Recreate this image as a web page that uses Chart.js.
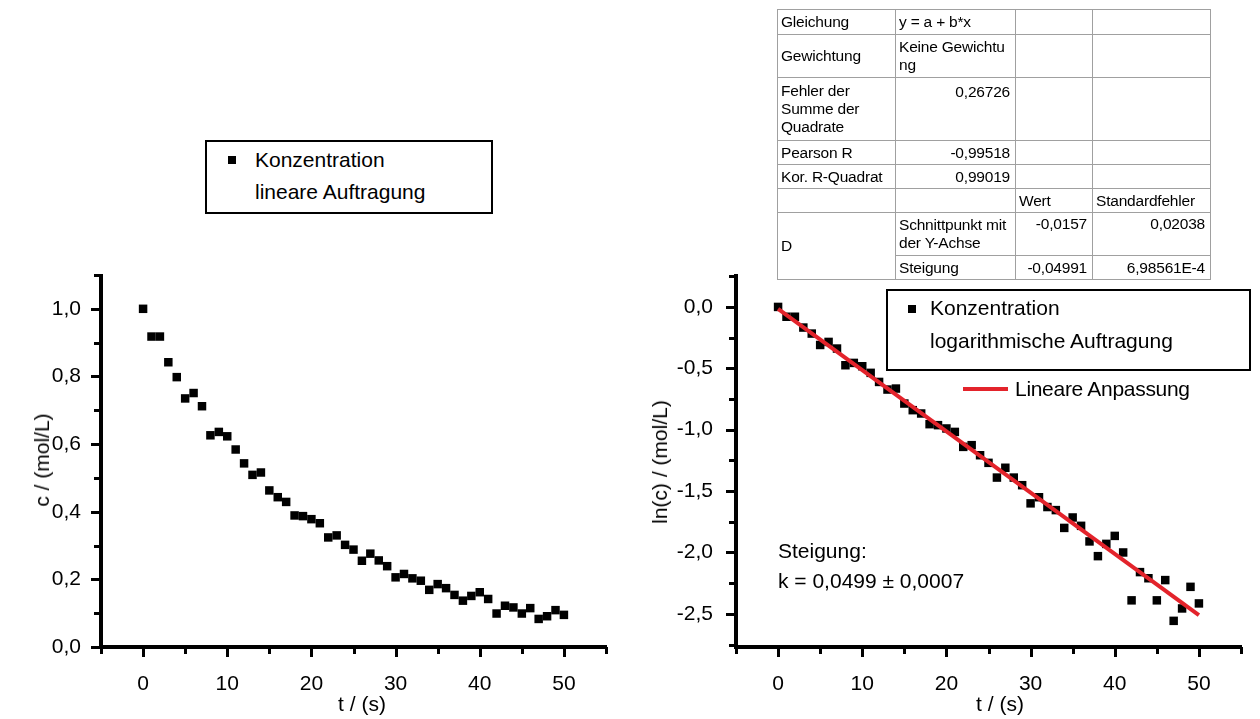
<!DOCTYPE html>
<html><head><meta charset="utf-8">
<script src="https://cdn.jsdelivr.net/npm/chart.js@4.4.1/dist/chart.umd.min.js"></script>
<style>
html,body{margin:0;padding:0;background:#fff;width:1260px;height:719px;overflow:hidden;font-family:"Liberation Sans",Arial,sans-serif;color:#000;}
.wrap{position:absolute;top:0;width:630px;height:719px;}
.t{position:absolute;font-size:21px;line-height:24px;white-space:nowrap;}
.ytitle{position:absolute;font-size:21px;line-height:24px;white-space:nowrap;transform:translate(-50%,-50%) rotate(-90deg);}
.xtitle{position:absolute;font-size:21px;line-height:24px;white-space:nowrap;transform:translate(-50%,-50%);}
.box{position:absolute;border:2px solid #000;box-sizing:border-box;background:#fff;}
.mk{position:absolute;width:8px;height:8px;background:#000;}
table.fit{position:absolute;left:777px;top:9px;border-collapse:collapse;table-layout:fixed;font-size:15.5px;line-height:18px;border:1px solid #6e6e6e;letter-spacing:-0.2px;}
table.fit td{border:1px solid #a0a0a0;padding:0 4px 0 3px;vertical-align:middle;overflow:hidden;white-space:nowrap;}
table.fit td.r{text-align:right;padding-right:5px;}
table.fit td.top{vertical-align:top;}
</style></head><body>
<div class="wrap" style="left:0"><canvas id="c1" width="630" height="719"></canvas></div>
<div class="wrap" style="left:630px"><canvas id="c2" width="630" height="719"></canvas></div>

<table class="fit">
<colgroup><col style="width:118px"><col style="width:120px"><col style="width:77px"><col style="width:118px"></colgroup>
<tr style="height:25px"><td>Gleichung</td><td>y = a + b*x</td><td></td><td></td></tr>
<tr style="height:43px"><td>Gewichtung</td><td>Keine Gewichtu<br>ng</td><td></td><td></td></tr>
<tr style="height:63px"><td>Fehler der<br>Summe der<br>Quadrate</td><td class="r top" style="padding-top:5px">0,26726</td><td></td><td></td></tr>
<tr style="height:24px"><td>Pearson R</td><td class="r">-0,99518</td><td></td><td></td></tr>
<tr style="height:24px"><td>Kor. R-Quadrat</td><td class="r">0,99019</td><td></td><td></td></tr>
<tr style="height:24px"><td></td><td></td><td>Wert</td><td>Standardfehler</td></tr>
<tr style="height:43px"><td rowspan="2">D</td><td>Schnittpunkt mit<br>der Y-Achse</td><td class="r top" style="padding-top:2px">-0,0157</td><td class="r top" style="padding-top:2px">0,02038</td></tr>
<tr style="height:24px"><td>Steigung</td><td class="r">-0,04991</td><td class="r">6,98561E-4</td></tr>
</table>

<div class="box" style="left:205px;top:140px;width:288px;height:74px"></div>
<div class="mk" style="left:228px;top:156px"></div>
<div class="t" style="left:255px;top:148px">Konzentration</div>
<div class="t" style="left:255px;top:180px">lineare Auftragung</div>

<div class="box" style="left:886px;top:289px;width:365px;height:82px"></div>
<div class="mk" style="left:908px;top:305px"></div>
<div class="t" style="left:930px;top:296px">Konzentration</div>
<div class="t" style="left:930px;top:329px">logarithmische Auftragung</div>
<div style="position:absolute;left:963px;top:387px;width:45px;height:4px;background:#e3232b"></div>
<div class="t" style="left:1015px;top:377px;letter-spacing:-0.3px">Lineare Anpassung</div>

<div class="t" style="left:778px;top:539px">Steigung:</div>
<div class="t" style="left:778px;top:569px">k = 0,0499 ± 0,0007</div>

<div class="ytitle" style="left:42px;top:460px">c / (mol/L)</div>
<div class="ytitle" style="left:660px;top:462px">ln(c) / (mol/L)</div>
<div class="xtitle" style="left:362px;top:704px">t / (s)</div>
<div class="xtitle" style="left:1000px;top:704px">t / (s)</div>

<script>
// ---- data ----
const time = [0,1,2,3,4,5,6,7,8,9,10,11,12,13,14,15,16,17,18,19,20,21,22,23,24,25,26,27,28,29,30,31,32,33,34,35,36,37,38,39,40,41,42,43,44,45,46,47,48,49,50];
const concLinear = [1.0,0.918,0.918,0.842,0.798,0.735,0.751,0.712,0.626,0.636,0.623,0.584,0.543,0.509,0.516,0.463,0.443,0.429,0.389,0.387,0.378,0.366,0.324,0.330,0.302,0.288,0.255,0.276,0.256,0.239,0.206,0.216,0.203,0.196,0.169,0.186,0.174,0.154,0.137,0.151,0.162,0.142,0.099,0.122,0.117,0.099,0.115,0.083,0.091,0.109,0.095];
const concLog = [0,-0.080,-0.080,-0.168,-0.217,-0.310,-0.285,-0.339,-0.475,-0.456,-0.483,-0.537,-0.611,-0.673,-0.665,-0.787,-0.841,-0.868,-0.955,-0.963,-0.990,-1.018,-1.140,-1.126,-1.208,-1.270,-1.390,-1.310,-1.390,-1.452,-1.600,-1.550,-1.630,-1.655,-1.800,-1.715,-1.783,-1.910,-2.030,-1.930,-1.865,-2.000,-2.390,-2.160,-2.210,-2.390,-2.225,-2.557,-2.456,-2.280,-2.415];
const fitT = [0, 50];
const fitLn = [-0.0157, -2.5112];
const xMajorTicks = [0,10,20,30,40,50];
const xMinorTicks = [-5,5,15,25,35,45,55];
const linMajorTicks = [0,0.2,0.4,0.6,0.8,1.0];
const linMinorTicks = [0.1,0.3,0.5,0.7,0.9,1.1];
const logMajorTicks = [0,-0.5,-1.0,-1.5,-2.0,-2.5];
const logMinorTicks = [0.25,-0.25,-0.75,-1.25,-1.75,-2.25,-2.75];

const FONT = {family:'"Liberation Sans", Arial, sans-serif', size:21};
const fmt = v => v.toFixed(1).replace('.', ',');

const axisMarks = {
  id:'axisMarks',
  afterDraw(chart, args, o){
    const ctx = chart.ctx, a = chart.chartArea, xs = chart.scales.x, ys = chart.scales.y;
    ctx.save();
    ctx.strokeStyle = '#000';
    ctx.lineCap = 'butt';
    ctx.lineWidth = 3;
    const tick = (list, len, isX) => {
      list.forEach(v => {
        ctx.beginPath();
        if (isX) { const p = Math.round(xs.getPixelForValue(v)) + 0.5; ctx.moveTo(p, a.bottom); ctx.lineTo(p, a.bottom + len); }
        else { const p = Math.round(ys.getPixelForValue(v)) + 0.5; ctx.moveTo(a.left, p); ctx.lineTo(a.left - len, p); }
        ctx.stroke();
      });
    };
    tick(o.xMajor, 10, true); tick(o.xMinor, 7, true);
    tick(o.yMajor, 10, false); tick(o.yMinor, 7, false);
    ctx.lineWidth = 4;
    ctx.beginPath(); ctx.moveTo(a.left, a.top - 1); ctx.lineTo(a.left, a.bottom + 2); ctx.stroke();
    ctx.beginPath(); ctx.moveTo(a.left - 2, a.bottom); ctx.lineTo(a.right + 1, a.bottom); ctx.stroke();
    ctx.restore();
  }
};

function makeChart(id, datasets, ymin, ymax, yMajor, yMinor, yWidth, padRight, yPad){
  return new Chart(document.getElementById(id), {
    type:'scatter',
    data:{datasets},
    options:{
      responsive:false, animation:false,
      layout:{padding:{top:275, right:padRight, left:0, bottom:0}},
      plugins:{legend:{display:false}, tooltip:{enabled:false},
        axisMarks:{xMajor:xMajorTicks, xMinor:xMinorTicks, yMajor, yMinor}},
      scales:{
        x:{type:'linear', min:-5, max:55,
          afterBuildTicks:s => { s.ticks = xMajorTicks.map(v => ({value:v})); },
          afterFit:s => { s.height = 72; },
          grid:{display:true, drawOnChartArea:false, drawTicks:false},
          border:{display:false},
          ticks:{color:'#000', font:FONT, padding:25, maxRotation:0, autoSkip:false, callback:v => String(v)}},
        y:{type:'linear', min:ymin, max:ymax,
          afterBuildTicks:s => { s.ticks = yMajor.map(v => ({value:v})); },
          afterFit:s => { s.width = yWidth; },
          grid:{display:true, drawOnChartArea:false, drawTicks:false},
          border:{display:false},
          ticks:{color:'#000', font:FONT, padding:yPad, autoSkip:false, callback:v => fmt(v)}}
      }
    },
    plugins:[axisMarks]
  });
}

const pts1 = time.map((t,i) => ({x:t, y:concLinear[i]}));
makeChart('c1', [
  {label:'Konzentration lineare Auftragung', data:pts1, pointStyle:'rect', pointRadius:6, pointBackgroundColor:'#000', pointBorderWidth:0, backgroundColor:'#000', borderWidth:0}
], 0, 1.1, linMajorTicks, linMinorTicks, 101, 24, 20);

const pts2 = time.map((t,i) => ({x:t, y:concLog[i]}));
const fitPts = fitT.map((t,i) => ({x:t, y:fitLn[i]}));
makeChart('c2', [
  {label:'Lineare Anpassung', data:fitPts, showLine:true, pointRadius:0, borderColor:'#e3232b', borderWidth:4, order:0},
  {label:'Konzentration logarithmische Auftragung', data:pts2, pointStyle:'rect', pointRadius:6, pointBackgroundColor:'#000', pointBorderWidth:0, backgroundColor:'#000', borderWidth:0, order:1}
], -2.77, 0.26, logMajorTicks, logMinorTicks, 106, 19, 23);
</script>
</body></html>
